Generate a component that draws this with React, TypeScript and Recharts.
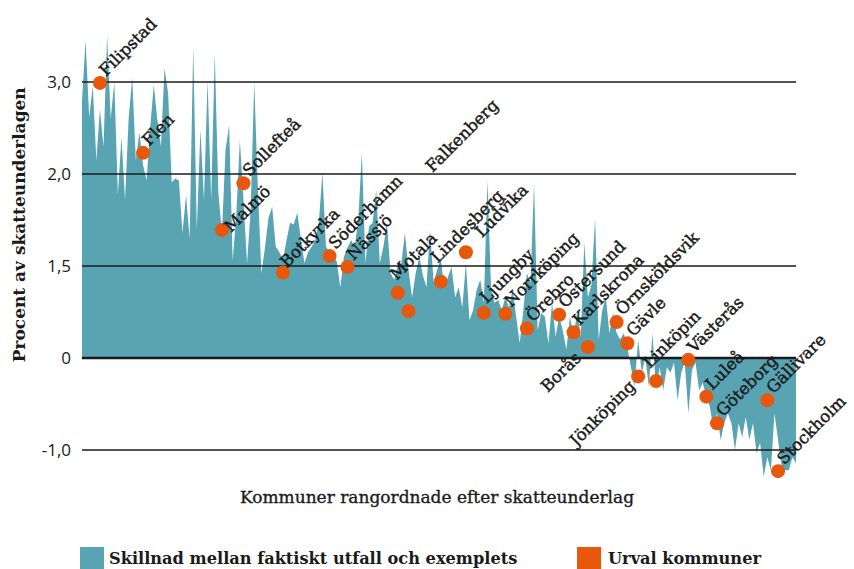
import React from 'react';
import { ComposedChart, Area, Scatter, XAxis, YAxis, ReferenceLine } from 'recharts';

// Difference per municipality, ranked by tax base (percent of tax base)
const diffValues: number[] = [
  2.8, 3.45, 2.62, 2.95, 2.15, 2.7, 2.3, 3.5, 2.6, 3.0,
  1.78, 2.4, 1.72, 2.6, 3.05, 2.15, 2.45, 2.1, 1.93, 2.5,
  2.97, 2.59, 2.3, 3.15, 2.88, 1.91, 1.95, 1.93, 1.36, 1.77,
  1.3, 3.4, 1.39, 2.48, 1.72, 3.02, 1.72, 3.31, 1.8, 1.36,
  2.26, 2.53, 1.06, 1.55, 2.37, 1.72, 1.03, 1.6, 3.0, 1.86,
  0.92, 1.2, 1.53, 1.64, 1.21, 1.15, 1.07, 1.28, 1.47, 1.45,
  1.58, 1.3, 1.03, 1.15, 1.21, 1.28, 1.47, 2.01, 1.21, 1.15,
  1.1, 1.05, 0.77, 1.1, 1.2, 1.28, 1.21, 1.5, 2.23, 1.03,
  1.43, 1.47, 1.83, 1.03, 1.21, 1.47, 0.92, 0.85, 1.0, 1.03,
  1.36, 0.96, 0.66, 0.92, 1.1, 0.9, 0.77, 1.39, 0.82, 0.96,
  1.07, 0.77, 0.88, 0.99, 0.66, 0.77, 0.55, 1.03, 0.41, 0.52,
  0.74, 0.85, 0.6, 1.93, 0.77, 0.6, 0.63, 0.52, 0.66, 0.55,
  0.74, 0.45, 0.16, 0.52, 0.92, 0.82, 1.9, 0.3, 0.49, 0.45,
  0.16, 0.6, 0.23, 0.45, 0.3, 0.09, 0.45, 0.23, 0.5, 0.23,
  1.25, 0.66, 0.8, 1.52, 0.2, 0.52, 0.66, 0.27, 0.49, 0.27,
  0.2, 0.27, 0.12, -0.1, -0.31, 0.2, -0.16, 0.0, -0.31, 0.27,
  -0.35, -0.1, -0.35, -0.1, -0.16, -0.05, -0.46, -0.16, -0.05, -0.6,
  -0.13, -0.05, -0.35, -0.27, -0.42, -0.53, -0.78, -0.6, -0.89, -0.71,
  -0.6, -0.71, -1.0, -0.71, -0.86, -0.64, -0.89, -0.71, -1.03, -0.92,
  -1.29, -1.08, -1.22, -0.6, -0.89, -1.18, -1.22, -1.22, -1.08, -1.14,
];

// Selected municipalities
const selNames: string[] = [
  'Filipstad', 'Flen', 'Malmö', 'Sollefteå', 'Botkyrka', 'Söderhamn', 'Nässjö',
  'Motala', 'Falkenberg', 'Lindesberg', 'Ludvika', 'Ljungby', 'Norrköping',
  'Örebro', 'Östersund', 'Karlskrona', 'Borås', 'Örnsköldsvik', 'Gävle',
  'Jönköping', 'Linköpin', 'Västerås', 'Luleå', 'Göteborg', 'Gällivare', 'Stockholm',
];
const selRanks: number[] = [
  5, 17, 39, 45, 56, 69, 74,
  88, 91, 100, 107, 112, 118,
  124, 133, 137, 141, 149, 152,
  155, 160, 169, 174, 177, 191, 194,
];
const selValues: number[] = [
  2.99, 2.23, 1.39, 1.9, 0.93, 1.11, 0.99,
  0.71, 0.51, 0.83, 1.15, 0.49, 0.48,
  0.32, 0.47, 0.28, 0.12, 0.39, 0.16,
  -0.2, -0.25, -0.02, -0.42, -0.71, -0.46, -1.23,
];

const yTicks: number[] = [-1, 0, 1, 2, 3];
const yTickLabels: string[] = ['-1,0', '0', '1,5', '2,0', '3,0'];

const yTitle = 'Procent av skatteunderlagen';
const xTitle = 'Kommuner rangordnade efter skatteunderlag';
const legendArea = 'Skillnad mellan faktiskt utfall och exemplets';
const legendDots = 'Urval kommuner';

const TEAL = '#58a4b3';
const ORANGE = '#e8580c';
const INK = '#1a1a1a';
const SERIF = '"DejaVu Serif", serif';

// label placement styles (offsets relative to the dot)
const labelPlacement: Record<string, { dx: number; dy: number; anchor?: 'start' | 'end' }> = {
  'Malmö': { dx: 9, dy: 3 },
  'Botkyrka': { dx: 4, dy: -4 },
  'Motala': { dx: -1, dy: -12 },
  'Falkenberg': { dx: 24, dy: -138 },
  'Lindesberg': { dx: -3, dy: -18 },
  'Ludvika': { dx: 16, dy: -14 },
  'Ljungby': { dx: 3, dy: -9 },
  'Borås': { dx: -6, dy: 12, anchor: 'end' },
  'Jönköping': { dx: -2, dy: 11, anchor: 'end' },
  'Linköpin': { dx: -6, dy: -12 },
};
const defaultPlacement = { dx: 6, dy: -6, anchor: 'start' as const };

const chartData = diffValues.map((v, i) => ({ idx: i, diff: v }));
const selData = selNames.map((name, i) => ({ idx: selRanks[i], sel: selValues[i], name }));

const DotShape = (props: any) => {
  const { cx, cy, payload } = props;
  if (cx == null || cy == null) return null;
  const p = { ...defaultPlacement, ...(labelPlacement[payload.name] || {}) };
  const ax = cx + p.dx;
  const ay = cy + p.dy;
  return (
    <g>
      <circle cx={cx} cy={cy} r={7} fill={ORANGE} />
      <text
        x={ax}
        y={ay}
        transform={`rotate(-45 ${ax} ${ay})`}
        textAnchor={p.anchor || 'start'}
        fontFamily={SERIF}
        fontSize={16.5}
        fill={INK}
        stroke={INK}
        strokeWidth={0.45}
      >
        {payload.name}
      </text>
    </g>
  );
};

const YTitle = (props: any) => {
  const vb = props.viewBox || { x: 0, y: 36, width: 82, height: 442 };
  const x = vb.x + 25;
  const y = vb.y + vb.height / 2 - 32;
  return (
    <text x={x} y={y} transform={`rotate(-90 ${x} ${y})`} textAnchor="middle"
      fontFamily={SERIF} fontSize={17} fontWeight="bold" fill={INK}>
      {yTitle}
    </text>
  );
};

const XTitle = (props: any) => {
  const vb = props.viewBox || { x: 82, y: 478, width: 714, height: 30 };
  const x = vb.x + vb.width / 2 - 2;
  const y = vb.y + 25;
  return (
    <text x={x} y={y} textAnchor="middle" fontFamily={SERIF} fontSize={17} fill={INK}
      stroke={INK} strokeWidth={0.35}>
      {xTitle}
    </text>
  );
};

export default function App() {
  return (
    <div style={{ position: 'absolute', left: 0, top: 0, width: 854, height: 569, overflow: 'hidden', background: '#fff' }}>
      <ComposedChart
        width={854}
        height={569}
        data={chartData}
        margin={{ top: 36, right: 58, bottom: 61.4, left: 0 }}
      >
        <XAxis
          dataKey="idx"
          type="number"
          domain={[0, diffValues.length - 1]}
          tick={false}
          tickLine={false}
          axisLine={false}
          height={30}
          label={{ content: XTitle }}
        />
        <YAxis
          type="number"
          domain={[-1.3, 3.5]}
          ticks={yTicks}
          width={82}
          axisLine={false}
          tickLine={false}
          tickMargin={5}
          interval={0}
          tickFormatter={(v: number) => yTickLabels[yTicks.indexOf(v)] ?? ''}
          tick={{ fontFamily: '"Open Sans", sans-serif', fontSize: 17, fontWeight: 500, fill: INK }}
          label={{ content: YTitle }}
        />
        <Area
          type="linear"
          dataKey="diff"
          baseValue={0}
          stroke="none"
          fill={TEAL}
          fillOpacity={1}
          isAnimationActive={false}
        />
        {yTicks.map((v) => (
          <ReferenceLine key={v} y={v} stroke={INK} strokeWidth={v === 0 ? 2.5 : 1.4} />
        ))}
        <Scatter data={selData} dataKey="sel" shape={DotShape} isAnimationActive={false} />
      </ComposedChart>
      <div style={{ position: 'absolute', left: 80, top: 547, width: 24, height: 22, background: TEAL }} />
      <div style={{ position: 'absolute', left: 109, top: 549, lineHeight: '20px', fontFamily: SERIF, fontWeight: 'bold', fontSize: 16.2, color: INK, whiteSpace: 'nowrap' }}>
        {legendArea}
      </div>
      <div style={{ position: 'absolute', left: 577, top: 547, width: 24, height: 22, background: ORANGE }} />
      <div style={{ position: 'absolute', left: 608, top: 549, lineHeight: '20px', fontFamily: SERIF, fontWeight: 'bold', fontSize: 16.2, color: INK, whiteSpace: 'nowrap' }}>
        {legendDots}
      </div>
    </div>
  );
}
